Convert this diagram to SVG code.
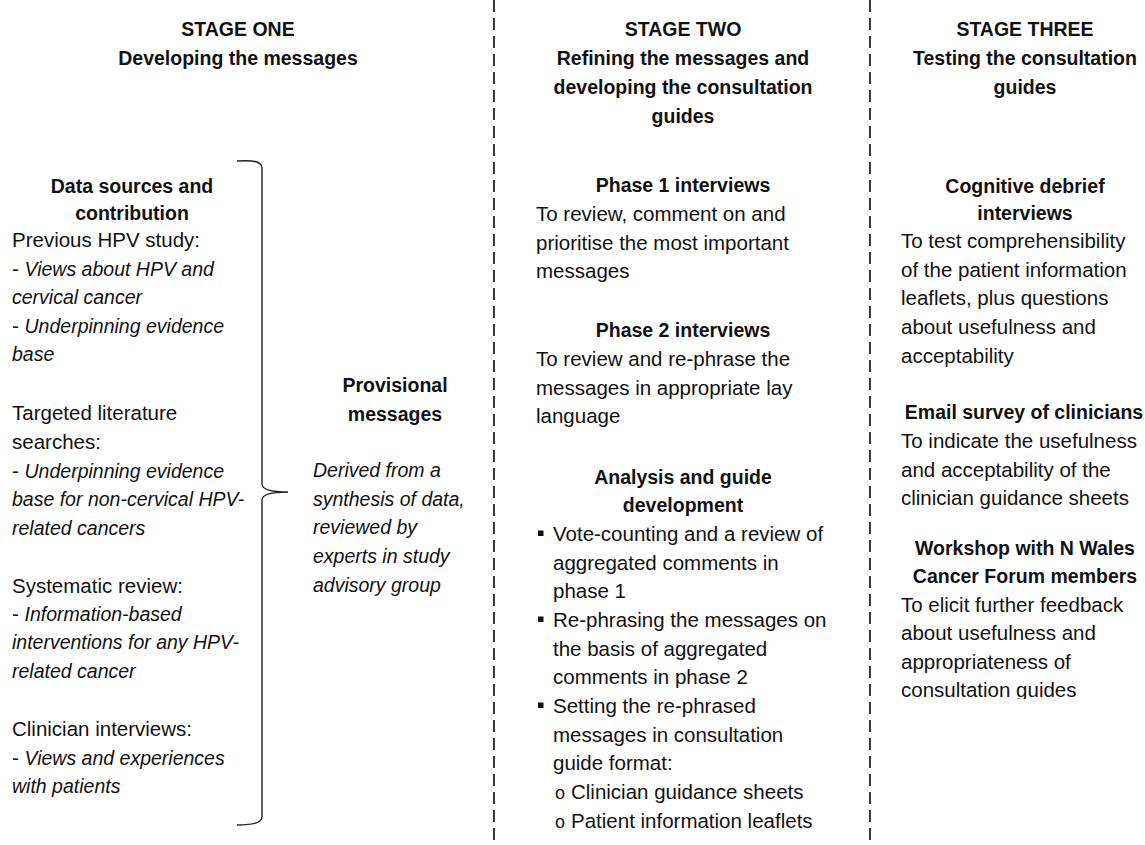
<svg xmlns="http://www.w3.org/2000/svg" width="1145" height="845" viewBox="0 0 1145 845">
<style>
text{font-family:"Liberation Sans",Arial,sans-serif;fill:#111;}
.r{font-size:20.5px;}
.b{font-size:19.5px;font-weight:bold;}
.i{font-size:19.5px;font-style:italic;}
.c{text-anchor:middle;}
.div{stroke:#222;stroke-width:1.8;stroke-dasharray:12 6;fill:none;}
.br{stroke:#222;stroke-width:1.4;fill:none;}
.sq{fill:#111;}
.o{font-size:18px;}
</style>
<defs>
<clipPath id="cl"><rect x="880" y="600" width="265" height="99"/></clipPath>
</defs>
<rect width="1145" height="845" fill="#fff"/>
<g id="dividers">
<line class="div" x1="494" y1="0" x2="494" y2="845"/>
<line class="div" x1="870" y1="0" x2="870" y2="845"/>
</g>
<g id="connectors">
<path class="br" d="M237,161 C252,160 262,161 262,168 L262,484 C262,489 270,492 288,492 C270,492 262,495 262,500 L262,817 C262,823 252,825 237,825"/>
</g>
<g id="stage1-header">
<text class="b c" x="238" y="36">STAGE ONE</text>
<text class="b c" x="238" y="65">Developing the messages</text>
</g>
<g id="stage2-header">
<text class="b c" x="683" y="36">STAGE TWO</text>
<text class="b c" x="683" y="65">Refining the messages and</text>
<text class="b c" x="683" y="94">developing the consultation</text>
<text class="b c" x="683" y="123">guides</text>
</g>
<g id="stage3-header">
<text class="b c" x="1025" y="36">STAGE THREE</text>
<text class="b c" x="1025" y="65">Testing the consultation</text>
<text class="b c" x="1025" y="94">guides</text>
</g>
<g id="data-sources">
<text class="b c" x="132" y="193">Data sources and</text>
<text class="b c" x="132" y="220">contribution</text>
<text class="r" x="12" y="247">Previous HPV study:</text>
<text class="r" x="12" y="276">- <tspan class="i">Views about HPV and</tspan></text>
<text class="i" x="12" y="304">cervical cancer</text>
<text class="r" x="12" y="333">- <tspan class="i">Underpinning evidence</tspan></text>
<text class="i" x="12" y="361">base</text>
<text class="r" x="12" y="420">Targeted literature</text>
<text class="r" x="12" y="449">searches:</text>
<text class="r" x="12" y="478">- <tspan class="i">Underpinning evidence</tspan></text>
<text class="i" x="12" y="506">base for non-cervical HPV-</text>
<text class="i" x="12" y="535">related cancers</text>
<text class="r" x="12" y="593">Systematic review:</text>
<text class="r" x="12" y="621">- <tspan class="i">Information-based</tspan></text>
<text class="i" x="12" y="649">interventions for any HPV-</text>
<text class="i" x="12" y="678">related cancer</text>
<text class="r" x="12" y="736">Clinician interviews:</text>
<text class="r" x="12" y="765">- <tspan class="i">Views and experiences</tspan></text>
<text class="i" x="12" y="793">with patients</text>
</g>
<g id="provisional-messages">
<text class="b c" x="395" y="392">Provisional</text>
<text class="b c" x="395" y="421">messages</text>
<text class="i" x="313" y="477">Derived from a</text>
<text class="i" x="313" y="506">synthesis of data,</text>
<text class="i" x="313" y="534">reviewed by</text>
<text class="i" x="313" y="563">experts in study</text>
<text class="i" x="313" y="592">advisory group</text>
</g>
<g id="phase1">
<text class="b c" x="683" y="192">Phase 1 interviews</text>
<text class="r" x="536" y="221">To review, comment on and</text>
<text class="r" x="536" y="250">prioritise the most important</text>
<text class="r" x="536" y="278">messages</text>
</g>
<g id="phase2">
<text class="b c" x="683" y="337">Phase 2 interviews</text>
<text class="r" x="536" y="366">To review and re-phrase the</text>
<text class="r" x="536" y="395">messages in appropriate lay</text>
<text class="r" x="536" y="423">language</text>
</g>
<g id="analysis">
<text class="b c" x="683" y="484">Analysis and guide</text>
<text class="b c" x="683" y="512">development</text>
<rect class="sq" x="538" y="530.5" width="5.5" height="5.5"/>
<text class="r" x="553" y="541">Vote-counting and a review of</text>
<text class="r" x="553" y="570">aggregated comments in</text>
<text class="r" x="553" y="598">phase 1</text>
<rect class="sq" x="538" y="616.5" width="5.5" height="5.5"/>
<text class="r" x="553" y="627">Re-phrasing the messages on</text>
<text class="r" x="553" y="656">the basis of aggregated</text>
<text class="r" x="553" y="684">comments in phase 2</text>
<rect class="sq" x="538" y="702.5" width="5.5" height="5.5"/>
<text class="r" x="553" y="713">Setting the re-phrased</text>
<text class="r" x="553" y="742">messages in consultation</text>
<text class="r" x="553" y="770">guide format:</text>
<text class="o" x="555" y="799">o</text>
<text class="r" x="571" y="799">Clinician guidance sheets</text>
<text class="o" x="555" y="828">o</text>
<text class="r" x="571" y="828">Patient information leaflets</text>
</g>
<g id="cognitive-debrief">
<text class="b c" x="1025" y="193">Cognitive debrief</text>
<text class="b c" x="1025" y="220">interviews</text>
<text class="r" x="901" y="248">To test comprehensibility</text>
<text class="r" x="901" y="277">of the patient information</text>
<text class="r" x="901" y="305">leaflets, plus questions</text>
<text class="r" x="901" y="334">about usefulness and</text>
<text class="r" x="901" y="363">acceptability</text>
</g>
<g id="email-survey">
<text class="b c" x="1024" y="419">Email survey of clinicians</text>
<text class="r" x="901" y="448">To indicate the usefulness</text>
<text class="r" x="901" y="477">and acceptability of the</text>
<text class="r" x="901" y="505">clinician guidance sheets</text>
</g>
<g id="workshop">
<text class="b c" x="1025" y="555">Workshop with N Wales</text>
<text class="b c" x="1025" y="583">Cancer Forum members</text>
<text class="r" x="901" y="612">To elicit further feedback</text>
<text class="r" x="901" y="640">about usefulness and</text>
<text class="r" x="901" y="669">appropriateness of</text>
<text class="r" x="901" y="697" clip-path="url(#cl)">consultation guides</text>
</g>
</svg>
